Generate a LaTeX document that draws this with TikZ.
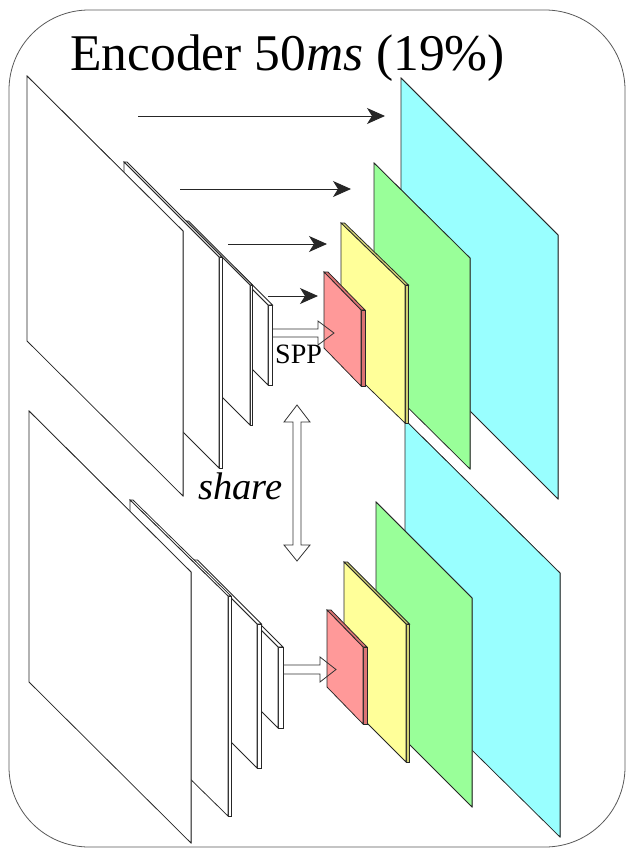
\documentclass[tikz,border=0pt]{standalone}
\usepackage{fontspec}
\setmainfont{Liberation Serif}
\usetikzlibrary{arrows.meta}
\definecolor{cyanF}{RGB}{153,255,255}
\definecolor{greenF}{RGB}{153,255,153}
\definecolor{yellowF}{RGB}{255,255,153}
\definecolor{yellowS}{RGB}{210,210,115}
\definecolor{redF}{RGB}{255,153,153}
\definecolor{redS}{RGB}{220,115,115}
% #1 x0, #2 y0 (top-left of front face), #3 w, #4 drop of top edge, #5 height, #6 thickness, #7 front fill, #8 side fill
\newcommand{\slabbox}[8]{%
  \filldraw[slabline, fill=#8] (#1,#2) -- ++(#3,#4) -- ++(#6,0) -- ++(-#3,-#4) -- cycle;
  \filldraw[slabline, fill=#8] (#1+#3,#2+#4) -- ++(#6,0) -- ++(0,#5) -- ++(-#6,0) -- cycle;
  \filldraw[slabline, fill=#7] (#1,#2) -- ++(#3,#4) -- ++(0,#5) -- ++(-#3,-#4) -- cycle;
}
\begin{document}
\begin{tikzpicture}[x=1pt,y=-1pt,
  slabline/.style={draw=black!85, line width=0.75pt, line join=miter},
  featarrow/.style={-{Stealth[length=18pt,width=16pt,inset=5pt]}, line width=1pt, draw=black!85},
  hollow/.style={draw=black!80, line width=0.8pt, line join=miter},
  frame/.style={draw=black!65, line width=0.8pt, rounded corners=80pt},
  lbl/.style={anchor=base west, inner sep=0pt, text=black}
]
\useasboundingbox (0,0) rectangle (626,849);
\draw[frame] (9,10) rectangle (625,847);

% ---------- lower encoder: white feature maps (back to front)
\slabbox{240}{609}{38}{38}{81}{5}{white}{white}
\slabbox{193}{560}{64}{64}{144}{4.5}{white}{white}
\slabbox{130}{500}{98}{96}{220}{3}{white}{white}
\slabbox{29}{411}{162}{161}{271}{0}{white}{white}
% ---------- lower encoder: coloured maps
\slabbox{405}{420}{155}{153}{264}{0}{cyanF}{cyanF}
\slabbox{376}{502}{96}{96}{209}{0}{greenF}{greenF}
\slabbox{344}{562}{62}{62}{138}{3.5}{yellowF}{yellowS}
\slabbox{327}{610}{36}{37}{77}{4}{redF}{redS}

% ---------- upper encoder: white feature maps (back to front)
\slabbox{231}{268}{37}{37}{80}{4.5}{white}{white}
\slabbox{186}{221}{64}{64}{140}{2.5}{white}{white}
\slabbox{124}{162}{95}{95}{211}{3}{white}{white}
\slabbox{27}{76}{156}{155}{265}{0}{white}{white}
% ---------- upper encoder: coloured maps
\slabbox{401}{78}{157}{157}{264}{0}{cyanF}{cyanF}
\slabbox{374}{163}{96}{95}{211}{0}{greenF}{greenF}
\slabbox{341}{223}{64}{62}{138}{3.5}{yellowF}{yellowS}
\slabbox{324}{272}{37}{38}{76}{4}{redF}{redS}

% ---------- lateral arrows (upper)
\coordinate (a1s) at (138,116); \coordinate (a1e) at (385,116);
\coordinate (a2s) at (180,189); \coordinate (a2e) at (351,189);
\coordinate (a3s) at (228,244); \coordinate (a3e) at (327,244);
\coordinate (a4s) at (268,296); \coordinate (a4e) at (318,296);
\draw[featarrow] (a1s) -- (a1e);
\draw[featarrow] (a2s) -- (a2e);
\draw[featarrow] (a3s) -- (a3e);
\draw[featarrow] (a4s) -- (a4e);

% ---------- SPP hollow arrows
\draw[hollow] (273,329) -- (318,329) -- (318,321) -- (334,333) -- (318,345) -- (318,337) -- (273,337);
\draw[hollow] (283,665) -- (320,665) -- (320,657) -- (336,669.5) -- (320,682) -- (320,674) -- (283,674);

% ---------- share double arrow
\draw[hollow] (293,422) -- (284,422) -- (297,405) -- (310,422) -- (301,422)
  -- (301,545) -- (310,545) -- (297,561) -- (284,545) -- (293,545) -- cycle;

% ---------- labels
\node[lbl, font=\fontsize{51.5}{58}\selectfont] (title) at (70,70) {Encoder 50\textit{ms} (19\%)};
\node[lbl, font=\fontsize{28}{31}\selectfont] (spp) at (275,363) {SPP};
\node[lbl, font=\fontsize{38.5}{42}\selectfont\itshape] (share) at (198,499) {share};
\end{tikzpicture}
\end{document}
